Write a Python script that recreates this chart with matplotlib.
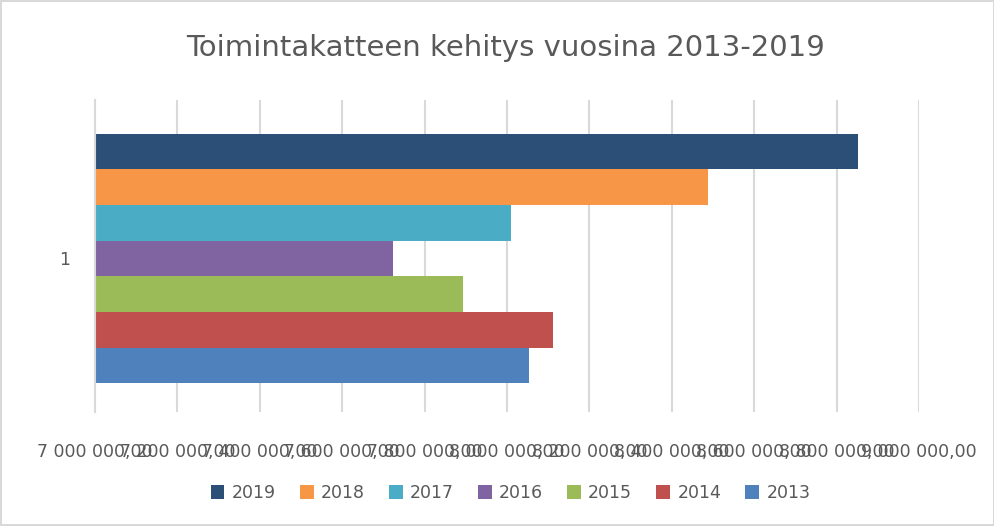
import numpy as np
import matplotlib.pyplot as plt

years = ['2019', '2018', '2017', '2016', '2015', '2014', '2013']
values = [8852000, 8488000, 8010000, 7723000, 7893000, 8112000, 8053000]
colors = ['#2c4f77', '#f79646', '#4bacc6', '#8064a2', '#9bbb59', '#c0504d', '#4f81bd']
ticks = np.arange(7000000, 9000001, 200000)
tick_labels = ['{:,.2f}'.format(t).replace(',', ' ').replace('.', ',') for t in ticks]

fig = plt.figure(figsize=(9.95, 5.26), dpi=100)
fig.patch.set_edgecolor('#d9d9d9')
fig.patch.set_linewidth(1.5)
ax = fig.add_axes([95 / 995, 1 - 412 / 526, (919 - 95) / 995, (412 - 100) / 526])

h = 0.80 / 7
top = 0.492 + 3 * h
for i, (y, v, c) in enumerate(zip(years, values, colors)):
    ax.barh(top - i * h, v - 7000000, left=7000000, height=h, color=c, label=y)

ax.set_xlim(7000000, 9000000)
ax.set_ylim(0, 1)
ax.set_xticks(ticks)
ax.set_xticklabels(tick_labels, fontsize=12.5, color='#595959')
ax.set_yticks([0.492])
ax.set_yticklabels(['1'], fontsize=12.5, color='#595959')
ax.tick_params(axis='x', length=0, pad=22)
ax.tick_params(axis='y', length=0, pad=18)
ax.grid(axis='x', color='#d9d9d9', lw=1.5)
ax.set_axisbelow(True)
for s in ['top', 'right', 'bottom']:
    ax.spines[s].set_visible(False)
ax.spines['left'].set_color('#d9d9d9')
ax.spines['left'].set_linewidth(1.5)

fig.text(0.508, 1 - 48 / 526, 'Toimintakatteen kehitys vuosina 2013-2019',
         ha='center', va='center', fontsize=21, color='#595959')
fig.legend(loc='center', bbox_to_anchor=(0.513, 1 - 493 / 526), ncol=7, frameon=False,
           fontsize=12.5, labelcolor='#595959', handlelength=0.8, handleheight=0.8,
           handletextpad=0.4, columnspacing=1.4)

fig.savefig('out.png', dpi=100, edgecolor=fig.get_edgecolor())
